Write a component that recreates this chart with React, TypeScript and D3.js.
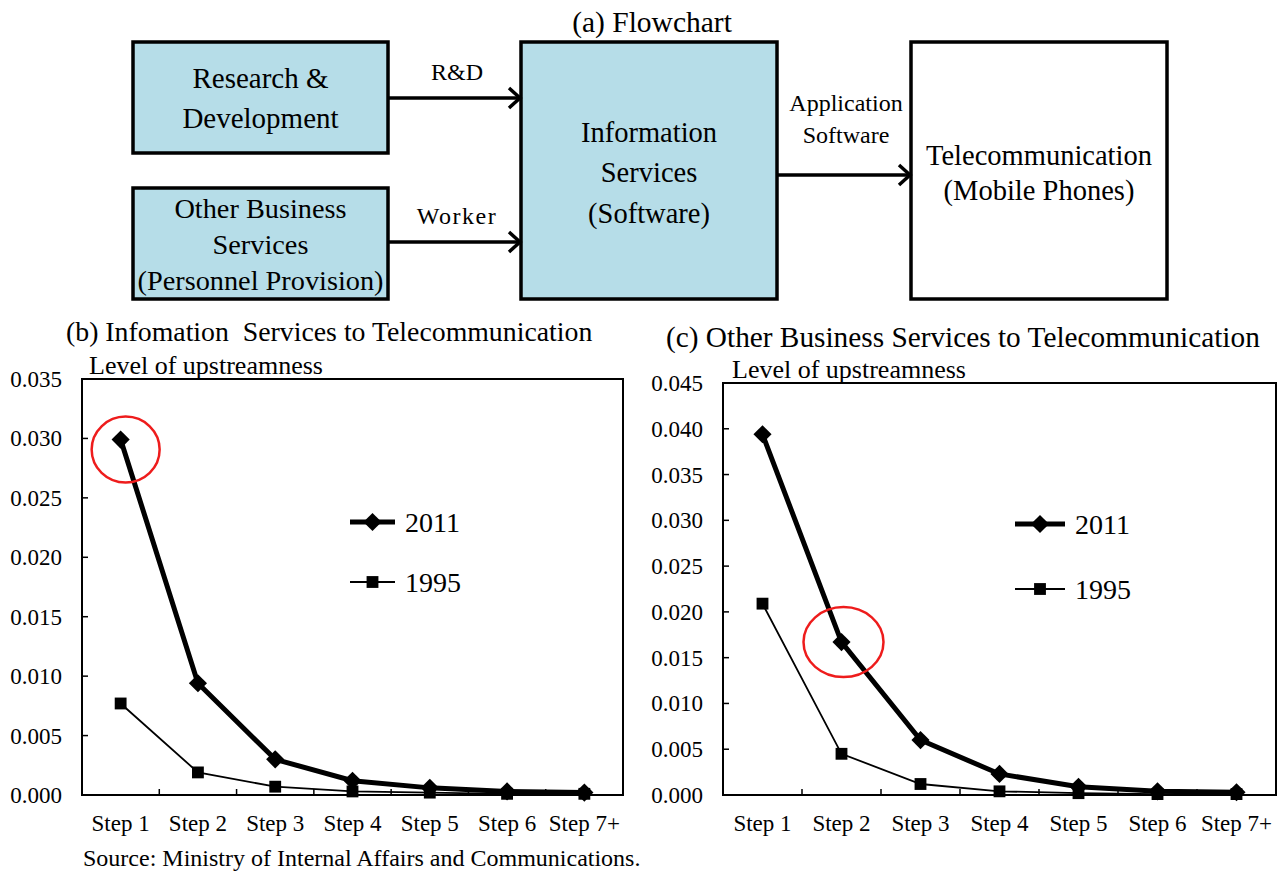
import React from "react";
import * as d3 from "d3";

const steps = ["Step 1", "Step 2", "Step 3", "Step 4", "Step 5", "Step 6", "Step 7+"];
const infoSvc2011 = [0.0299, 0.0094, 0.0030, 0.0012, 0.0006, 0.0003, 0.0002];
const infoSvc1995 = [0.0077, 0.0019, 0.0007, 0.0003, 0.0002, 0.0001, 0.0001];
const otherBiz2011 = [0.0394, 0.0167, 0.0060, 0.0023, 0.0009, 0.0004, 0.0003];
const otherBiz1995 = [0.0209, 0.0045, 0.0012, 0.0004, 0.0002, 0.0001, 0.0001];
const ticksB = [0, 0.005, 0.01, 0.015, 0.02, 0.025, 0.03, 0.035];
const ticksC = [0, 0.005, 0.01, 0.015, 0.02, 0.025, 0.03, 0.035, 0.04, 0.045];
const seriesNames = ["2011", "1995"];

const FONT = "'Liberation Serif', 'Times New Roman', serif";

type PanelProps = {
  left: number; right: number; top: number; bottom: number; ymax: number; ticks: number[];
  s2011: number[]; s1995: number[]; title: string; titleX: number; titleY: number; titleFs: number;
  subX: number; subY: number; legX: number; legY1: number; legY2: number; legW: number;
  circleIdx: number; circleRx: number; circleRy: number; circleDx: number; circleDy: number;
};

function Panel(p: PanelProps) {
  const x = d3.scaleBand().domain(steps).range([p.left, p.right]);
  const y = d3.scaleLinear().domain([0, p.ymax]).range([p.bottom, p.top]);
  const line = d3.line<number>().x((_, i) => x(steps[i])! + x.bandwidth() / 2).y((d) => y(d));
  const diamond = d3.symbol().type(d3.symbolSquare).size(165)();
  const square = d3.symbol().type(d3.symbolSquare).size(140)();
  const cx = (i: number) => x(steps[i])! + x.bandwidth() / 2;
  return (
    <g fontFamily={FONT} fill="#000">
      <text x={p.titleX} y={p.titleY} fontSize={p.titleFs} style={{ whiteSpace: "pre" }}>{p.title}</text>
      <text x={p.subX} y={p.subY} fontSize={26}>Level of upstreamness</text>
      <rect x={p.left} y={p.top} width={p.right - p.left} height={p.bottom - p.top} fill="none" stroke="#000" strokeWidth={2} />
      {p.ticks.map((t) => (
        <g key={t}>
          <line x1={p.left} x2={p.left + 6} y1={y(t)} y2={y(t)} stroke="#000" strokeWidth={1.5} />
          <text x={p.left - 20} y={y(t) + 8} fontSize={23} textAnchor="end">{t.toFixed(3)}</text>
        </g>
      ))}
      {steps.map((s, i) => (
        <g key={s}>
          {i > 0 && <line x1={x(s)} x2={x(s)} y1={p.bottom} y2={p.bottom - 6} stroke="#000" strokeWidth={1.5} />}
          <text x={cx(i)} y={p.bottom + 36} fontSize={23} textAnchor="middle">{s}</text>
        </g>
      ))}
      <path d={line(p.s1995)!} fill="none" stroke="#000" strokeWidth={1.8} />
      {p.s1995.map((v, i) => (
        <path key={"s" + i} d={square} transform={`translate(${cx(i)},${y(v)})`} fill="#000" />
      ))}
      <path d={line(p.s2011)!} fill="none" stroke="#000" strokeWidth={5} />
      {p.s2011.map((v, i) => (
        <path key={"d" + i} d={diamond} transform={`translate(${cx(i)},${y(v)}) rotate(45)`} fill="#000" />
      ))}
      <ellipse cx={cx(p.circleIdx) + p.circleDx} cy={y(p.s2011[p.circleIdx]) + p.circleDy} rx={p.circleRx} ry={p.circleRy} fill="none" stroke="#ee1c1c" strokeWidth={2.5} />
      <line x1={p.legX} x2={p.legX + p.legW} y1={p.legY1} y2={p.legY1} stroke="#000" strokeWidth={5} />
      <path d={diamond} transform={`translate(${p.legX + p.legW / 2},${p.legY1}) rotate(45)`} fill="#000" />
      <text x={p.legX + p.legW + 10} y={p.legY1 + 10} fontSize={28}>{seriesNames[0]}</text>
      <line x1={p.legX} x2={p.legX + p.legW} y1={p.legY2} y2={p.legY2} stroke="#000" strokeWidth={1.8} />
      <path d={square} transform={`translate(${p.legX + p.legW / 2},${p.legY2})`} fill="#000" />
      <text x={p.legX + p.legW + 10} y={p.legY2 + 10} fontSize={28}>{seriesNames[1]}</text>
    </g>
  );
}

function Arrow({ x1, x2, y }: { x1: number; x2: number; y: number }) {
  return (
    <g stroke="#000" strokeWidth={3.5} fill="none">
      <line x1={x1} x2={x2 - 2} y1={y} y2={y} />
      <polyline points={`${x2 - 12},${y - 10} ${x2 - 1},${y} ${x2 - 12},${y + 10}`} strokeLinejoin="miter" />
    </g>
  );
}

function Box({ x, y, w, h, fill, lines, lineYs, fs }: { x: number; y: number; w: number; h: number; fill: string; lines: string[]; lineYs: number[]; fs: number }) {
  return (
    <g>
      <rect x={x} y={y} width={w} height={h} fill={fill} stroke="#000" strokeWidth={3.5} />
      {lines.map((l, i) => (
        <text key={i} x={x + w / 2} y={lineYs[i]} textAnchor="middle" fontSize={fs} fontFamily={FONT}>{l}</text>
      ))}
    </g>
  );
}

export default function App() {
  const blue = "#b6dde8";
  return (
    <svg width={1284} height={872} style={{ position: "absolute", left: 0, top: 0, background: "#fff" }}>
      <rect width={1284} height={872} fill="#fff" />
      <text x={652} y={32} fontSize={29.5} textAnchor="middle" fontFamily={FONT}>(a) Flowchart</text>
      <Box x={133} y={42} w={255} h={111} fill={blue} lines={["Research &", "Development"]} lineYs={[88, 128]} fs={29} />
      <Box x={133} y={188} w={255} h={111} fill={blue} lines={["Other Business", "Services", "(Personnel Provision)"]} lineYs={[218, 254, 290]} fs={28.3} />
      <Box x={521} y={42} w={256} h={257} fill={blue} lines={["Information", "Services", "(Software)"]} lineYs={[142, 182, 223]} fs={28.5} />
      <Box x={911} y={42} w={256} h={257} fill="#fff" lines={["Telecommunication", "(Mobile Phones)"]} lineYs={[165, 200]} fs={28.5} />
      <Arrow x1={388} x2={521} y={98} />
      <Arrow x1={388} x2={521} y={242} />
      <Arrow x1={777} x2={911} y={175} />
      <g fontFamily={FONT} fontSize={24} textAnchor="middle">
        <text x={457} y={80}>R&amp;D</text>
        <text x={457} y={224} letterSpacing={1.5}>Worker</text>
        <text x={846} y={111}>Application</text>
        <text x={846} y={143}>Software</text>
      </g>
      <Panel left={82} right={623} top={379} bottom={795} ymax={0.035} ticks={ticksB}
        s2011={infoSvc2011} s1995={infoSvc1995}
        title="(b) Infomation  Services to Telecommunication" titleX={66} titleY={341} titleFs={27.8}
        subX={89} subY={374} legX={350} legY1={522} legY2={582} legW={45}
        circleIdx={0} circleRx={34} circleRy={33} circleDx={5} circleDy={10} />
      <Panel left={723} right={1276} top={383} bottom={795} ymax={0.045} ticks={ticksC}
        s2011={otherBiz2011} s1995={otherBiz1995}
        title="(c) Other Business Services to Telecommunication" titleX={666} titleY={347} titleFs={29.3}
        subX={732} subY={378} legX={1015} legY1={524} legY2={589} legW={50}
        circleIdx={1} circleRx={40} circleRy={35} circleDx={2} circleDy={0} />
      <text x={83} y={866} fontSize={24} fontFamily={FONT}>Source: Ministry of Internal Affairs and Communications.</text>
    </svg>
  );
}
